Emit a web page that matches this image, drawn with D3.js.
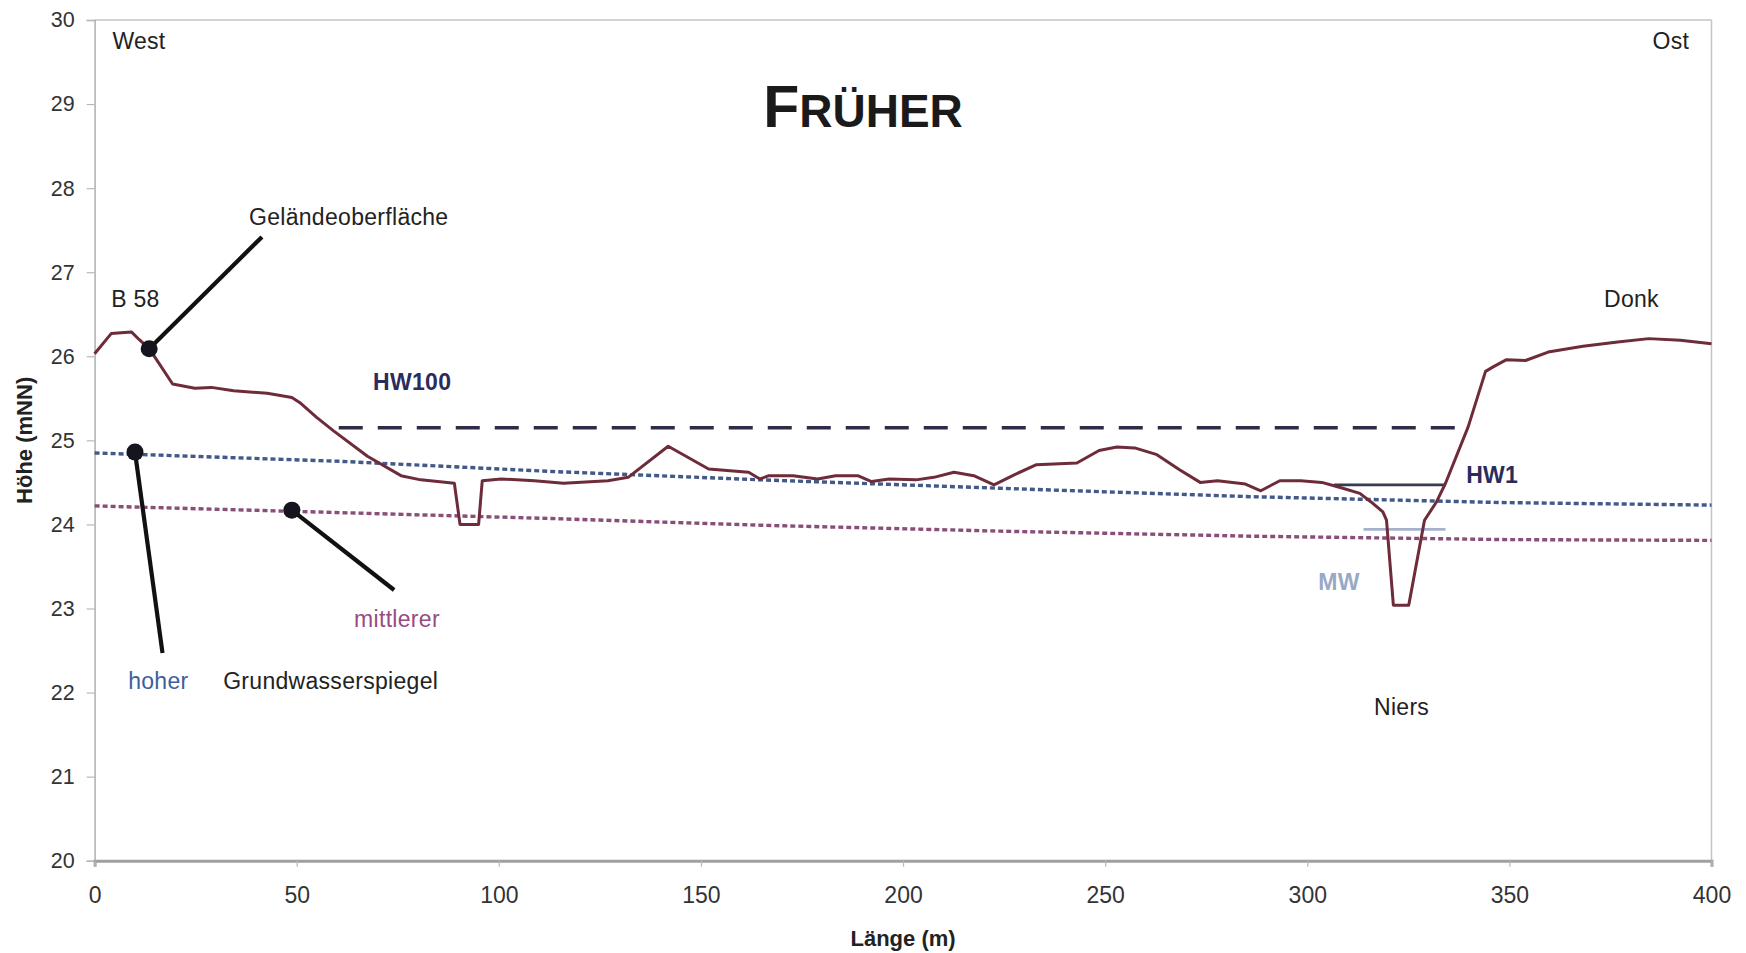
<!DOCTYPE html>
<html><head><meta charset="utf-8">
<script src="https://cdn.jsdelivr.net/npm/d3@7"></script>
<style>
body{margin:0;background:#fff}
svg{display:block;font-family:"Liberation Sans",Arial,Helvetica,sans-serif}
</style>
</head><body>
<svg id="chart" width="1746" height="953"></svg>
<script>
// ---- data ----
const xTicks = [0, 50, 100, 150, 200, 250, 300, 350, 400];
const yTicks = [20, 21, 22, 23, 24, 25, 26, 27, 28, 29, 30];

// Geländeoberfläche (ground surface)
const groundX = [0, 4.1, 9.1, 11, 13.5, 15.2, 19.3, 24.8, 28.9, 34.4, 42.7, 48.8, 51, 55, 59.2, 67.5, 75.8, 80.7, 89, 90.4, 95, 95.9, 100.6, 108.8, 116, 127, 132, 141.9, 151.9, 161.8, 164.6, 166.8, 172.8, 178.9, 183.3, 188.8, 192.2, 196.6, 203.2, 207.6, 212.6, 217.5, 222.5, 227.5, 233, 243, 248.5, 252.9, 257.3, 262.8, 268.4, 273.5, 277.8, 284.7, 288.5, 293.2, 298.4, 303.6, 306.6, 308.8, 313, 315.7, 318.7, 319.6, 321.3, 325.1, 329, 332, 334.2, 339.8, 344.1, 346.2, 349.3, 354, 359.6, 368.2, 376.8, 384.5, 392.3, 400];
const groundY = [26.03, 26.27, 26.29, 26.2, 26.09, 25.97, 25.67, 25.62, 25.63, 25.59, 25.56, 25.51, 25.44, 25.27, 25.11, 24.81, 24.58, 24.53, 24.49, 24.0, 24.0, 24.52, 24.54, 24.52, 24.49, 24.52, 24.56, 24.93, 24.66, 24.62, 24.54, 24.58, 24.58, 24.54, 24.58, 24.58, 24.51, 24.54, 24.53, 24.56, 24.62, 24.58, 24.47, 24.59, 24.71, 24.73, 24.88, 24.92, 24.91, 24.83, 24.65, 24.50, 24.52, 24.48, 24.40, 24.52, 24.52, 24.50, 24.46, 24.43, 24.37, 24.27, 24.15, 24.05, 23.04, 23.04, 24.05, 24.27, 24.49, 25.16, 25.82, 25.88, 25.96, 25.95, 26.05, 26.12, 26.17, 26.21, 26.19, 26.15];

// hoher Grundwasserspiegel
const highGwX = [0, 61, 113, 165, 224, 286, 348, 400];
const highGwY = [24.85, 24.75, 24.63, 24.53, 24.43, 24.33, 24.26, 24.23];
// mittlerer Grundwasserspiegel
const midGwX = [0, 61, 113, 165, 224, 286, 348, 400];
const midGwY = [24.22, 24.14, 24.07, 23.99, 23.92, 23.86, 23.82, 23.81];

// water levels
const hw100X = [60.4, 339.8], hw100Y = [25.15, 25.15];
const hw1X = [306.6, 334.2], hw1Y = [24.47, 24.47];
const mwX = [313.9, 334.2], mwY = [23.94, 23.94];

// annotation pointers: marker point -> line end
const pointerX0 = [13.5, 10, 48.8];
const pointerY0 = [26.09, 24.86, 24.17];
const pointerX1 = [41.4, 16.8, 74.1];
const pointerY1 = [27.42, 22.47, 23.22];

// text labels
const labelText = ["West", "Ost", "B 58", "Donk", "Geländeoberfläche", "HW100", "HW1", "MW", "hoher", "Grundwasserspiegel", "mittlerer", "Niers"];
const labelX = [4.4, 394.5, 4.1, 373.4, 38.2, 68.9, 339.3, 302.7, 8.3, 31.8, 64.2, 316.5];
const labelY = [29.65, 29.65, 26.59, 26.59, 27.56, 25.6, 24.49, 23.22, 22.04, 22.04, 22.78, 21.73];
const labelAnchor = ["start", "end", "start", "start", "start", "start", "start", "start", "start", "start", "start", "start"];
const labelColor = ["#222", "#222", "#222", "#222", "#222", "#2b2b5c", "#2b2b5c", "#98a8c6", "#3d5f9c", "#222", "#9a4a82", "#222"];
const labelWeight = ["normal", "normal", "normal", "normal", "normal", "bold", "bold", "bold", "normal", "normal", "normal", "normal"];

// ---- layout ----
const svg = d3.select("#chart");
const m = {left: 94.6, right: 1711.5, top: 20, bottom: 860.7};
const x = d3.scaleLinear().domain([0, 400]).range([m.left, m.right]);
const y = d3.scaleLinear().domain([20, 30]).range([m.bottom, m.top]);

svg.append("rect").attr("width", 1746).attr("height", 953).attr("fill", "#fff");

// frame (top & right)
svg.append("line").attr("x1", x(0)).attr("x2", x(400)).attr("y1", y(30)).attr("y2", y(30))
  .attr("stroke", "#c4c4c4").attr("stroke-width", 1.5);
svg.append("line").attr("x1", x(400)).attr("x2", x(400)).attr("y1", y(30)).attr("y2", y(20))
  .attr("stroke", "#c4c4c4").attr("stroke-width", 1.5);

// axes
const yAxis = svg.append("g").attr("transform", `translate(${m.left},0)`)
  .call(d3.axisLeft(y).tickValues(yTicks).tickFormat(d3.format("d")).tickSize(8).tickPadding(12));
const xAxis = svg.append("g").attr("transform", `translate(0,${m.bottom})`)
  .call(d3.axisBottom(x).tickValues(xTicks).tickFormat(d3.format("d")).tickSize(6).tickPadding(20));
yAxis.select(".domain").attr("stroke", "#b0b0b0").attr("stroke-width", 1.5);
xAxis.select(".domain").attr("stroke", "#a0a0a0").attr("stroke-width", 3);
yAxis.selectAll(".tick line").attr("stroke", "#b8b8b8").attr("stroke-width", 1.2);
xAxis.selectAll(".tick line").attr("stroke", "#b8b8b8").attr("stroke-width", 1.2);
yAxis.selectAll(".tick text").attr("font-size", 21.5).attr("fill", "#333");
xAxis.selectAll(".tick text").attr("font-size", 23).attr("fill", "#333");
yAxis.attr("font-family", null); xAxis.attr("font-family", null);

// axis titles
svg.append("text").attr("x", (m.left + m.right) / 2).attr("y", 946)
  .attr("text-anchor", "middle").attr("font-size", 22).attr("font-weight", "bold").attr("fill", "#222")
  .text("Länge (m)");
svg.append("text").attr("transform", `translate(32,${(m.top + m.bottom) / 2}) rotate(-90)`)
  .attr("text-anchor", "middle").attr("font-size", 22).attr("font-weight", "bold").attr("fill", "#222")
  .text("Höhe (mNN)");

// title (small caps)
const title = svg.append("text").attr("x", (m.left + m.right) / 2 - 40).attr("y", 127)
  .attr("text-anchor", "middle").attr("font-weight", "bold").attr("fill", "#1a1a1a");
title.append("tspan").attr("font-size", 59).text("F");
title.append("tspan").attr("font-size", 46).text("RÜHER");

const line = d3.line().x(d => x(d[0])).y(d => y(d[1]));
const zip = (a, b) => a.map((v, i) => [v, b[i]]);

// groundwater lines
svg.append("path").datum(zip(midGwX, midGwY)).attr("d", line)
  .attr("fill", "none").attr("stroke", "#8a4f78").attr("stroke-width", 3.4).attr("stroke-dasharray", "5,3");
svg.append("path").datum(zip(highGwX, highGwY)).attr("d", line)
  .attr("fill", "none").attr("stroke", "#42598a").attr("stroke-width", 3.4).attr("stroke-dasharray", "5,3");

// water levels
svg.append("path").datum(zip(hw100X, hw100Y)).attr("d", line)
  .attr("fill", "none").attr("stroke", "#2d2d48").attr("stroke-width", 3.4).attr("stroke-dasharray", "24,15");
svg.append("path").datum(zip(mwX, mwY)).attr("d", line)
  .attr("fill", "none").attr("stroke", "#a6b2cc").attr("stroke-width", 2.8);
svg.append("path").datum(zip(hw1X, hw1Y)).attr("d", line)
  .attr("fill", "none").attr("stroke", "#3a3a4e").attr("stroke-width", 2.6);

// ground surface
svg.append("path").datum(zip(groundX, groundY)).attr("d", line)
  .attr("fill", "none").attr("stroke", "#6e2b3a").attr("stroke-width", 3).attr("stroke-linejoin", "round");

// pointers
const ptr = svg.append("g");
pointerX0.forEach((px, i) => {
  ptr.append("line").attr("x1", x(px)).attr("y1", y(pointerY0[i]))
    .attr("x2", x(pointerX1[i])).attr("y2", y(pointerY1[i]))
    .attr("stroke", "#111").attr("stroke-width", 4.2);
  ptr.append("circle").attr("cx", x(px)).attr("cy", y(pointerY0[i])).attr("r", 8.5).attr("fill", "#151520");
});

// labels
const lab = svg.append("g");
labelText.forEach((t, i) => {
  lab.append("text").attr("x", x(labelX[i])).attr("y", y(labelY[i]))
    .attr("text-anchor", labelAnchor[i]).attr("font-size", 23).attr("letter-spacing", 0.3)
    .attr("font-weight", labelWeight[i]).attr("fill", labelColor[i]).text(t);
});
</script>
</body></html>
